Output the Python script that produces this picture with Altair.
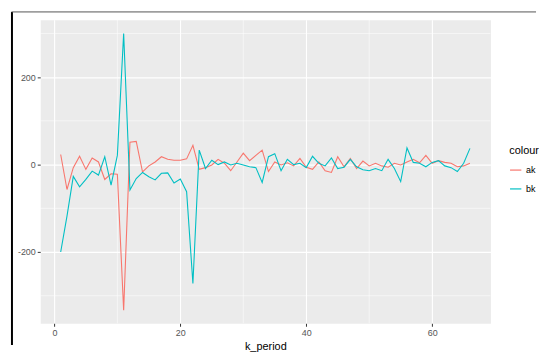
import altair as alt
import pandas as pd

k_period = list(range(1, 67))
ak = [23, -57, -7, 19, -11, 15, 6, -34, -21, -22,
      -333, 51, 53, -17, -3, 6, 18, 12, 10, 10,
      13, 44, -11, -7, -1, 12, 3, -14, 6, 26,
      9, 21, 33, -16, 6, -1, 4, -3, 14, -6,
      -11, 6, -14, -18, 18, -5, 14, -9, 8, -3,
      3, -3, -6, 3, -1, 6, 12, 4, 21, 3,
      9, 5, 3, -5, -3, 3]
bk = [-200, -118, -27, -51, -34, -15, -24, 18, -47, 21,
      300, -58, -32, -18, -28, -35, -20, -19, -42, -33,
      -62, -272, 33, -9, 10, 0, 6, -1, 3, -1,
      -5, -7, -41, 18, 25, -14, 12, 0, 3, -7,
      19, 3, -3, 15, -9, -6, 12, -5, -12, -14,
      -9, -14, 12, -9, -39, 38, 5, 3, -5, 5,
      9, -3, -7, -16, 3, 37]
series_names = ["ak", "bk"]
series_colors = ["#F8766D", "#00BFC4"]
x_ticks = [0, 20, 40, 60]
y_ticks = [-200, 0, 200]
minor_x = [10, 30, 50]
minor_y = [-300, -100, 100, 300]

df = pd.DataFrame({
    "k_period": k_period * 2,
    "value": ak + bk,
    "colour": ["ak"] * len(ak) + ["bk"] * len(bk),
})

xscale = alt.Scale(domain=[-2.25, 69.25], nice=False, zero=False)
yscale = alt.Scale(domain=[-363, 331], nice=False, zero=False)
xaxis = alt.Axis(values=x_ticks, title="k_period", labelExpr="'' + datum.value")
yaxis = alt.Axis(values=y_ticks, title=None, minExtent=31, maxExtent=31,
                 labelExpr="'' + datum.value")

minor_v = alt.Chart(pd.DataFrame({"k_period": minor_x})).mark_rule(
    color="white", strokeWidth=0.55
).encode(x=alt.X("k_period:Q", scale=xscale, axis=xaxis))

minor_h = alt.Chart(pd.DataFrame({"value": minor_y})).mark_rule(
    color="white", strokeWidth=0.55
).encode(y=alt.Y("value:Q", scale=yscale, axis=yaxis))

lines = alt.Chart(df).mark_line(strokeWidth=1.1).encode(
    x=alt.X("k_period:Q", scale=xscale, axis=xaxis),
    y=alt.Y("value:Q", scale=yscale, axis=yaxis),
    color=alt.Color(
        "colour:N",
        scale=alt.Scale(domain=series_names, range=series_colors),
        legend=alt.Legend(
            title="colour", orient="none", legendX=473, legendY=126,
            symbolType="stroke", symbolStrokeWidth=1.2, symbolSize=130,
            rowPadding=7, titlePadding=8,
        ),
    ),
)

frame_left = alt.Chart(pd.DataFrame({"a": [0]})).mark_rule(
    color="black", strokeWidth=2
).encode(x=alt.value(-28.5), y=alt.value(-8), y2=alt.value(328))

frame_top = alt.Chart(pd.DataFrame({"a": [0]})).mark_rule(
    color="#555555", strokeWidth=1
).encode(x=alt.value(-29), x2=alt.value(500), y=alt.value(-8))

chart = alt.layer(minor_v, minor_h, lines, frame_left, frame_top).properties(
    width=454, height=306,
    padding={"left": 1.5, "top": 1.5, "right": 0, "bottom": 0},
).configure_view(
    fill="#EBEBEB", stroke="transparent"
).configure_axis(
    domain=False, grid=True, gridColor="white", gridWidth=1.1,
    tickColor="#333333", tickSize=3, labelPadding=2,
    labelColor="#555555", labelFontSize=9, labelFont="Liberation Sans",
    titleFont="Liberation Sans", titleFontSize=11, titleFontWeight="normal",
    titleColor="black", titlePadding=3,
).configure_legend(
    titleFont="Liberation Sans", titleFontSize=11, titleFontWeight="normal",
    titleColor="black", labelFont="Liberation Sans", labelFontSize=9,
    labelColor="black",
)

chart.save("out.html", embed_options={"renderer": "svg", "actions": False})
